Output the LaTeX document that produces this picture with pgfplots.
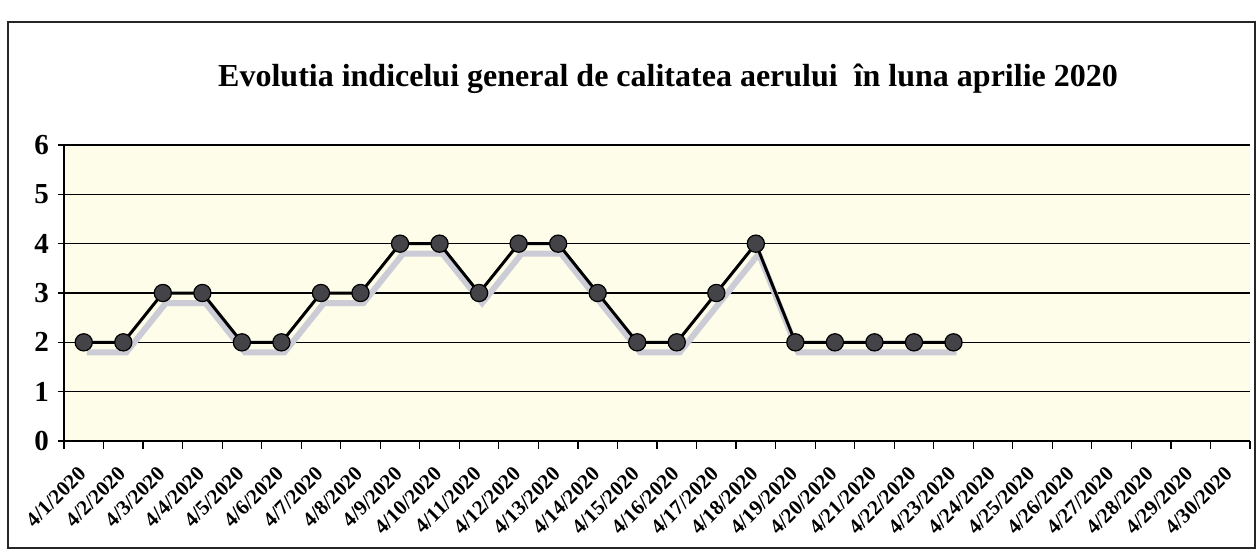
\documentclass[border=0pt]{standalone}
\usepackage{pgfplots}
\pgfplotsset{compat=1.18}
\usepackage{fontspec}
\setmainfont{Liberation Serif}
\definecolor{plotbg}{RGB}{253,253,234}
\definecolor{shadowc}{RGB}{204,204,214}
\definecolor{markc}{RGB}{68,68,72}
\begin{document}
\begin{tikzpicture}
\path[use as bounding box] (-32pt,-57.5pt) rectangle (597pt,220.5pt);
\draw[black!85, line width=0.6pt] (-28pt,-53.5pt) rectangle (595.5pt,209.5pt);
\node[font=\fontsize{16}{18}\selectfont\bfseries] at (302pt,181pt) {Evolutia indicelui general de calitatea aerului\ \ în luna aprilie 2020};
\begin{axis}[
  at={(0pt,0pt)}, anchor=south west,
  width=593pt, height=148pt, scale only axis,
  xmin=0.5, xmax=30.5, ymin=0, ymax=6,
  axis background/.style={fill=plotbg},
  axis x line*=bottom, axis y line*=left,
  axis line style={black, line width=0.8pt},
  ytick={0,...,6},
  ymajorgrids, grid style={black, line width=0.7pt},
  xtick={1,...,30},
  xticklabels={4/1/2020,4/2/2020,4/3/2020,4/4/2020,4/5/2020,4/6/2020,4/7/2020,4/8/2020,4/9/2020,4/10/2020,4/11/2020,4/12/2020,4/13/2020,4/14/2020,4/15/2020,4/16/2020,4/17/2020,4/18/2020,4/19/2020,4/20/2020,4/21/2020,4/22/2020,4/23/2020,4/24/2020,4/25/2020,4/26/2020,4/27/2020,4/28/2020,4/29/2020,4/30/2020},
  minor xtick={0.5,1.5,...,30.5},
  major x tick style={draw=none},
  tick align=outside,
  major tick length=3pt, minor tick length=4pt,
  tick style={black, line width=0.6pt},
  /pgf/number format/assume math mode=true,
  yticklabel style={font=\fontsize{14.5}{15}\selectfont\bfseries, xshift=-1pt},
  xticklabel style={font=\fontsize{10.5}{11}\selectfont\bfseries, inner sep=1pt, xshift=0pt, yshift=-11pt, rotate=45, anchor=east},
  clip=false,
]
\addplot[shadowc, line width=3pt, xshift=1.5pt, yshift=-5pt, forget plot] coordinates {
(1,2)(2,2)(3,3)(4,3)(5,2)(6,2)(7,3)(8,3)(9,4)(10,4)(11,3)(12,4)(13,4)(14,3)(15,2)(16,2)(17,3)(18,4)(19,2)(20,2)(21,2)(22,2)(23,2)};
\addplot[black, line width=1.5pt, mark=*, mark size=4.3pt, mark options={fill=markc, draw=black, line width=0.6pt}] coordinates {
(1,2)(2,2)(3,3)(4,3)(5,2)(6,2)(7,3)(8,3)(9,4)(10,4)(11,3)(12,4)(13,4)(14,3)(15,2)(16,2)(17,3)(18,4)(19,2)(20,2)(21,2)(22,2)(23,2)};
\end{axis}
\end{tikzpicture}
\end{document}
